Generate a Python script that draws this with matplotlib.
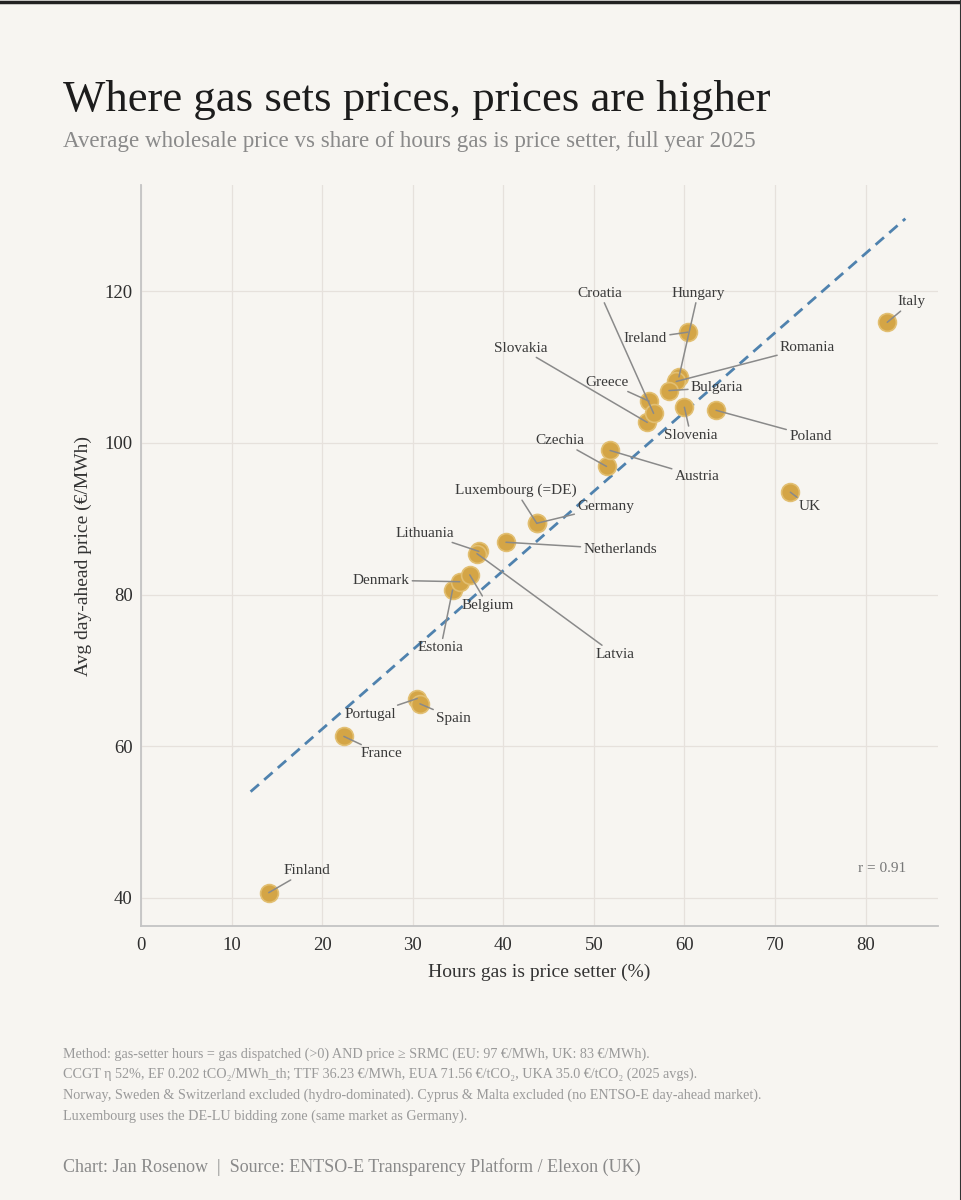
import numpy as np
import matplotlib
matplotlib.use('Agg')
import matplotlib.pyplot as plt
from matplotlib.lines import Line2D

plt.rcParams['font.family'] = ['Liberation Serif', 'DejaVu Serif']

# data (full year 2025)
countries = ['Finland', 'France', 'Portugal', 'Spain', 'Estonia', 'Denmark', 'Belgium',
             'Lithuania', 'Latvia', 'Netherlands', 'Germany', 'Luxembourg (=DE)',
             'Czechia', 'Austria', 'Slovakia', 'Greece', 'Croatia', 'Hungary', 'Ireland',
             'Romania', 'Bulgaria', 'Slovenia', 'Poland', 'Italy', 'UK']
gas_hours = [14.1, 22.4, 30.5, 30.8, 34.4, 35.2, 36.3,
             37.3, 37.1, 40.3, 43.7, 43.7,
             51.4, 51.8, 55.9, 56.1, 56.6, 59.4, 60.4,
             59.1, 58.3, 60.0, 63.5, 82.4, 71.7]
avg_price = [40.7, 61.3, 66.3, 65.6, 80.6, 81.7, 82.6,
             85.7, 85.4, 86.9, 89.4, 89.4,
             96.9, 99.0, 102.7, 105.5, 103.9, 108.7, 114.6,
             108.1, 106.9, 104.7, 104.3, 115.9, 93.5]

# where each label sits (layout, data coords)
label_pos = {
    'Finland': (18.3, 43.6), 'France': (26.5, 59.0), 'Portugal': (25.3, 64.2),
    'Spain': (34.5, 63.7), 'Estonia': (33.1, 73.0), 'Denmark': (26.5, 81.9),
    'Belgium': (38.3, 78.6), 'Lithuania': (31.3, 88.1), 'Latvia': (52.3, 72.1),
    'Netherlands': (52.9, 86.0), 'Germany': (51.3, 91.6), 'Luxembourg (=DE)': (41.4, 93.7),
    'Czechia': (46.3, 100.3), 'Austria': (61.4, 95.6), 'Slovakia': (41.9, 112.5),
    'Greece': (51.5, 108.0), 'Croatia': (50.7, 119.7), 'Hungary': (61.5, 119.7),
    'Ireland': (55.7, 113.8), 'Romania': (73.6, 112.6), 'Bulgaria': (63.6, 107.3),
    'Slovenia': (60.7, 101.0), 'Poland': (73.9, 100.9), 'Italy': (85.1, 118.6),
    'UK': (73.8, 91.6),
}

bg = '#f7f5f1'
fig = plt.figure(figsize=(9.62, 12), dpi=100, facecolor=bg)
ax = fig.add_axes([0.1466, 0.2283, 0.8284, 0.6175], facecolor=bg)

x = np.array(gas_hours)
y = np.array(avg_price)

# trend line (OLS) over data range +/- 2
slope, intercept = np.polyfit(x, y, 1)
xl = np.array([x.min() - 2, x.max() + 2])
ax.plot(xl, slope * xl + intercept, color='#4f82ae', lw=2, ls=(0, (4, 2.5)), zorder=2)
r = np.corrcoef(x, y)[0, 1]

# labels with leader lines
for name, px, py in zip(countries, gas_hours, avg_price):
    lx, ly = label_pos[name]
    ax.annotate(name, xy=(px, py), xytext=(lx, ly), ha='center', va='center',
                fontsize=11, color='#3a3a3a', zorder=4,
                arrowprops=dict(arrowstyle='-', color='#8a8a8a', lw=1.1,
                                shrinkA=0, shrinkB=0))

ax.scatter(x, y, s=165, color='#d4a546', edgecolors='#e2bf72', linewidths=1.2, zorder=3)

ax.text(84.5, 43.9, 'r = %.2f' % r, ha='right', va='center', fontsize=11, color='#777777')

ax.set_xlim(0, 88)
ax.set_ylim(36.3, 134)
ax.set_xticks(range(0, 81, 10))
ax.set_yticks(range(40, 121, 20))
ax.grid(True, color='#e6e1dc', lw=0.9)
ax.set_axisbelow(True)
ax.tick_params(length=0, labelsize=13.5, labelcolor='#2e2e2e')
ax.tick_params(axis='y', pad=6)
ax.tick_params(axis='x', pad=8)
for s in ['top', 'right']:
    ax.spines[s].set_visible(False)
for s in ['left', 'bottom']:
    ax.spines[s].set_color('#c4c4c4')
    ax.spines[s].set_linewidth(1.3)
ax.set_xlabel('Hours gas is price setter (%)', fontsize=14, color='#333333', labelpad=7)
ax.set_ylabel('Avg day-ahead price (€/MWh)', fontsize=14, color='#333333', labelpad=9)

# titles
fig.text(0.0655, 0.917, 'Where gas sets prices, prices are higher', fontsize=32.2,
         color='#1c1c1c', ha='left', va='center')
fig.text(0.0655, 0.882, 'Average wholesale price vs share of hours gas is price setter, full year 2025',
         fontsize=16.6, color='#8a8a8a', ha='left', va='center')

# footnotes
notes = [
    'Method: gas-setter hours = gas dispatched (>0) AND price ≥ SRMC (EU: 97 €/MWh, UK: 83 €/MWh).',
    'CCGT η 52%, EF 0.202 tCO₂/MWh_th; TTF 36.23 €/MWh, EUA 71.56 €/tCO₂, UKA 35.0 €/tCO₂ (2025 avgs).',
    'Norway, Sweden & Switzerland excluded (hydro-dominated). Cyprus & Malta excluded (no ENTSO-E day-ahead market).',
    'Luxembourg uses the DE-LU bidding zone (same market as Germany).',
]
for i, line in enumerate(notes):
    fig.text(0.0655, 1 - (1054 + i * 20.7) / 1200, line, fontsize=10.2, color='#9a9a9a',
             ha='left', va='center')
fig.text(0.0655, 1 - 1167 / 1200, 'Chart: Jan Rosenow  |  Source: ENTSO-E Transparency Platform / Elexon (UK)',
         fontsize=13, color='#8a8a8a', ha='left', va='center')

# screenshot frame edges
fig.add_artist(Line2D([0, 1], [0.9985, 0.9985], color='#222222', lw=2.5, transform=fig.transFigure))
fig.add_artist(Line2D([0.9985, 0.9985], [0, 1], color='#333333', lw=1.5, transform=fig.transFigure))

plt.savefig('out.png', dpi=100, facecolor=bg)
